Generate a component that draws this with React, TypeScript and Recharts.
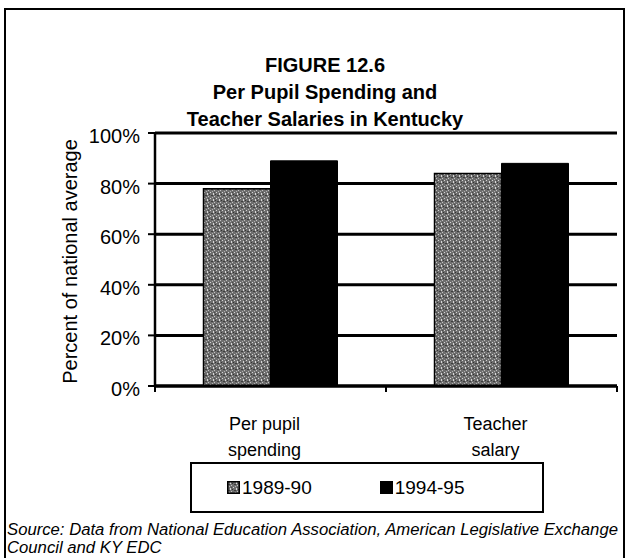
import React from 'react';
import { BarChart, Bar, XAxis, YAxis, CartesianGrid } from 'recharts';

const categories = ['Per pupil spending', 'Teacher salary'];
const categoryLines = [['Per pupil', 'spending'], ['Teacher', 'salary']];
const series1989 = [78, 84];
const series1994 = [89, 88];
const seriesNames = ['1989-90', '1994-95'];
const yTicks = [0, 20, 40, 60, 80, 100];
const titleLines = ['FIGURE 12.6', 'Per Pupil Spending and', 'Teacher Salaries in Kentucky'];
const yAxisTitle = 'Percent of national average';
const sourceLines = [
  'Source: Data from National Education Association, American Legislative Exchange',
  'Council and KY EDC',
];

const data = categories.map((c, i) => ({
  name: c,
  lines: categoryLines[i],
  s1989: series1989[i],
  s1994: series1994[i],
}));

const FONT = '"Liberation Sans", Arial, Helvetica, sans-serif';

const Speckle = ({ id }: { id: string }) => (
  <pattern id={id} width="6" height="6" patternUnits="userSpaceOnUse">
    <rect width="6" height="6" fill="#6e6e6e" />
    <rect x="0" y="0" width="1" height="1" fill="#d4d4d4" />
    <rect x="3" y="1" width="1" height="2" fill="#d9d9d9" />
    <rect x="1" y="3" width="2" height="1" fill="#3e3e3e" />
    <rect x="4" y="4" width="1" height="1" fill="#c2c2c2" />
    <rect x="5" y="2" width="1" height="1" fill="#333" />
    <rect x="2" y="5" width="1" height="1" fill="#b0b0b0" />
    <rect x="4" y="0" width="1" height="1" fill="#4a4a4a" />
  </pattern>
);

const XTick = (props: any) => {
  const { x, y, payload, index } = props;
  const off = payload && typeof payload.offset === 'number' ? payload.offset : 0;
  const lines: string[] = categoryLines[payload.index ?? index] || [String(payload.value)];
  return (
    <g>
      {index === 0 && off ? (
        <line x1={x - off} y1={y} x2={x - off} y2={y + 6} stroke="#000" strokeWidth={2} />
      ) : null}
      {off ? <line x1={x + off} y1={y} x2={x + off} y2={y + 6} stroke="#000" strokeWidth={2} /> : null}
      {lines.map((l, i) => (
        <text
          key={i}
          x={x - 6}
          y={y + 44 + i * 26}
          textAnchor="middle"
          fontFamily={FONT}
          fontSize={18}
          fill="#000"
        >
          {l}
        </text>
      ))}
    </g>
  );
};

const YTick = (props: any) => {
  const { x, y, payload } = props;
  return (
    <text x={x} y={y + 10} textAnchor="end" fontFamily={FONT} fontSize={20} fill="#000">
      {`${payload.value}%`}
    </text>
  );
};

export default function App() {
  return (
    <div
      style={{
        position: 'absolute',
        left: 0,
        top: 0,
        width: 628,
        height: 558,
        overflow: 'hidden',
        background: '#fff',
        fontFamily: FONT,
      }}
    >
      <div
        style={{
          position: 'absolute',
          left: 4,
          top: 8,
          width: 617,
          height: 600,
          border: '2px solid #000',
        }}
      />
      <div
        style={{
          position: 'absolute',
          left: 25,
          top: 52,
          width: 600,
          textAlign: 'center',
          fontWeight: 'bold',
          fontSize: 20,
          lineHeight: '27px',
          color: '#000',
        }}
      >
        {titleLines.map((t, i) => (
          <div key={i}>{t}</div>
        ))}
      </div>
      <div style={{ position: 'absolute', left: 0, top: 0 }}>
        <BarChart
          width={628}
          height={558}
          data={data}
          margin={{ top: 133, right: 11, bottom: 92, left: 0 }}
          barCategoryGap="21%"
          barGap={0}
        >
          <defs>
            <Speckle id="speckle" />
          </defs>
          <CartesianGrid horizontal vertical={false} stroke="#000" strokeWidth={3} />
          <XAxis
            dataKey="name"
            height={80}
            axisLine={{ stroke: '#000', strokeWidth: 3 }}
            tickLine={false}
            tickSize={0}
            tickMargin={0}
            tick={<XTick />}
            interval={0}
          />
          <YAxis
            width={155}
            domain={[0, 100]}
            ticks={yTicks}
            interval={0}
            axisLine={{ stroke: '#000', strokeWidth: 2.5 }}
            tickLine={{ stroke: '#000', strokeWidth: 2 }}
            tickSize={7}
            tickMargin={8}
            tick={<YTick />}
            label={{
              value: yAxisTitle,
              angle: -90,
              position: 'center',
              dx: -8,
              dy: 2,
              style: { fontFamily: FONT, fontSize: 20, fill: '#000' },
            }}
          />
          <Bar
            dataKey="s1989"
            name={seriesNames[0]}
            fill="url(#speckle)"
            stroke="#000"
            strokeWidth={1.5}
            isAnimationActive={false}
          />
          <Bar
            dataKey="s1994"
            name={seriesNames[1]}
            fill="#000"
            stroke="#000"
            strokeWidth={1}
            isAnimationActive={false}
          />
        </BarChart>
      </div>
      <div
        style={{
          position: 'absolute',
          left: 190,
          top: 462,
          width: 354,
          height: 51,
          border: '2px solid #000',
          display: 'flex',
          alignItems: 'center',
          paddingLeft: 35,
          boxSizing: 'border-box',
          fontSize: 19,
          color: '#000',
        }}
      >
        {seriesNames.map((n, i) => (
          <div
            key={n}
            style={{ display: 'flex', alignItems: 'center', marginRight: i === 0 ? 68 : 0 }}
          >
            <svg width={13} height={13} style={{ marginRight: 2 }}>
              <defs>
                <Speckle id={`lg-speckle-${i}`} />
              </defs>
              <rect
                x={0.75}
                y={0.75}
                width={11.5}
                height={11.5}
                fill={i === 0 ? `url(#lg-speckle-${i})` : '#000'}
                stroke="#000"
                strokeWidth={1.5}
              />
            </svg>
            <span>{n}</span>
          </div>
        ))}
      </div>
      <div
        style={{
          position: 'absolute',
          left: 7,
          top: 521,
          fontStyle: 'italic',
          fontSize: 16.7,
          lineHeight: '18px',
          color: '#000',
          whiteSpace: 'nowrap',
        }}
      >
        {sourceLines.map((s, i) => (
          <div key={i}>{s}</div>
        ))}
      </div>
    </div>
  );
}
